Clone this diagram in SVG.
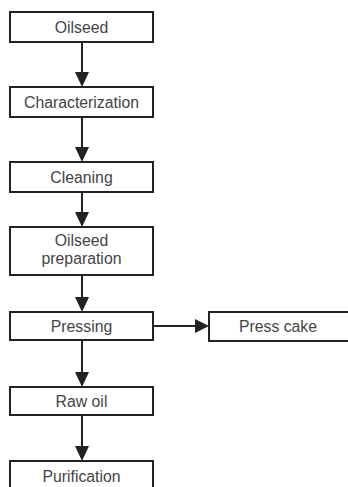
<svg xmlns="http://www.w3.org/2000/svg" width="348" height="487" viewBox="0 0 348 487">
<style>
.box{fill:#fff;stroke:#222;stroke-width:2}
.lbl{font-family:"Liberation Sans",Arial,sans-serif;font-size:15.8px;fill:#444;text-anchor:middle}
.con{stroke:#222;stroke-width:2;fill:none}
.ah{fill:#222}
</style>
<rect width="348" height="487" fill="#fff"/>
<g id="connectors">
<line class="con" x1="82" y1="42" x2="82" y2="72"/><polygon class="ah" points="75,72 89,72 82,87"/>
<line class="con" x1="82" y1="117" x2="82" y2="147"/><polygon class="ah" points="75,147 89,147 82,162"/>
<line class="con" x1="82" y1="192" x2="82" y2="212"/><polygon class="ah" points="75,212 89,212 82,227"/>
<line class="con" x1="82" y1="275" x2="82" y2="297"/><polygon class="ah" points="75,297 89,297 82,312"/>
<line class="con" x1="82" y1="340" x2="82" y2="372"/><polygon class="ah" points="75,372 89,372 82,387"/>
<line class="con" x1="82" y1="415" x2="82" y2="446"/><polygon class="ah" points="75,446 89,446 82,461"/>
<line class="con" x1="153" y1="326" x2="195" y2="326"/><polygon class="ah" points="195,319 195,333 209,326"/>
</g>
<g id="oilseed"><rect class="box" x="10" y="12" width="143" height="30"/><text class="lbl" x="81.5" y="32.5">Oilseed</text></g>
<g id="characterization"><rect class="box" x="10" y="87" width="143" height="30"/><text class="lbl" x="81.5" y="107.5">Characterization</text></g>
<g id="cleaning"><rect class="box" x="10" y="162" width="143" height="30"/><text class="lbl" x="81.5" y="182.5">Cleaning</text></g>
<g id="preparation"><rect class="box" x="10" y="227" width="143" height="48"/><text class="lbl" x="81.5" y="246">Oilseed</text><text class="lbl" x="81.5" y="264">preparation</text></g>
<g id="pressing"><rect class="box" x="10" y="312" width="143" height="28"/><text class="lbl" x="81.5" y="331.5">Pressing</text></g>
<g id="presscake"><rect class="box" x="209" y="312" width="150" height="29"/><text class="lbl" x="278" y="332">Press cake</text></g>
<g id="rawoil"><rect class="box" x="10" y="387" width="143" height="28"/><text class="lbl" x="81.5" y="406.5">Raw oil</text></g>
<g id="purification"><rect class="box" x="10" y="461" width="143" height="40"/><text class="lbl" x="81.5" y="481.5">Purification</text></g>
</svg>
